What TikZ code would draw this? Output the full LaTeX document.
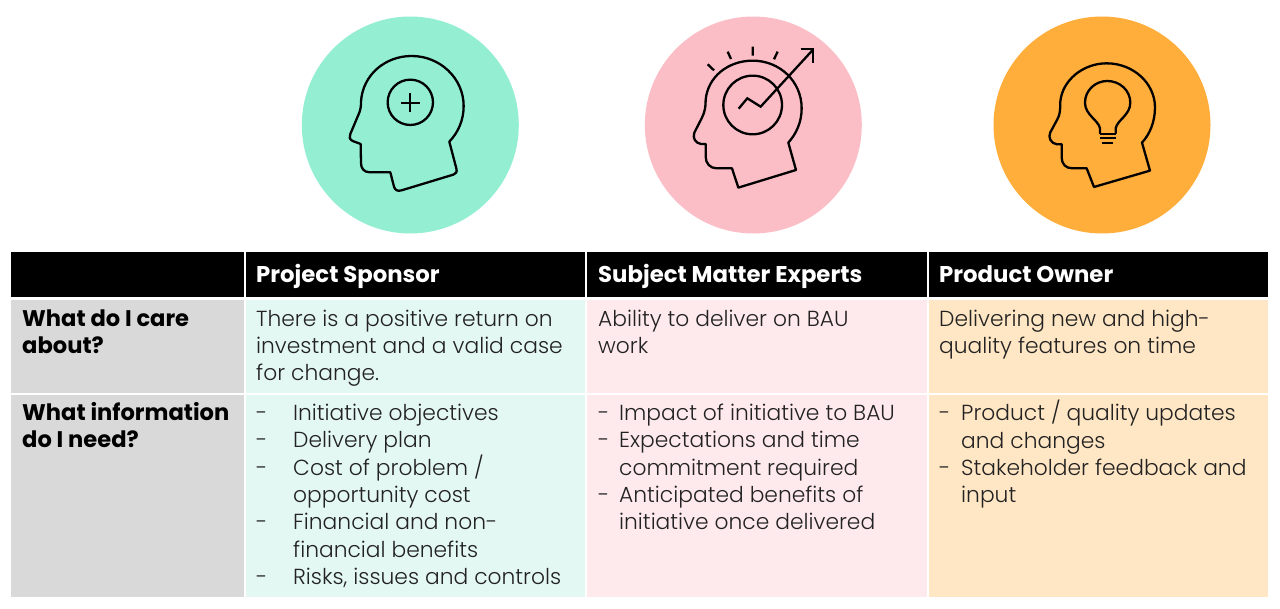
\documentclass[tikz,border=0pt]{standalone}
\usepackage{fontspec}
\setmainfont{Poppins}[UprightFont=* Light,BoldFont=* Bold]
\definecolor{mintD}{HTML}{94EFD2}
\definecolor{pinkD}{HTML}{FBBEC6}
\definecolor{orangeD}{HTML}{FFAD3B}
\definecolor{mintL}{HTML}{E4F8F3}
\definecolor{pinkL}{HTML}{FEE9EC}
\definecolor{orangeL}{HTML}{FFE6C4}
\definecolor{greyL}{HTML}{D9D9D9}
\definecolor{ink}{HTML}{222222}
\newcommand{\fl}{\rule{0pt}{20pt}}
\tikzset{
  badge/.style={circle,inner sep=0pt,minimum size=217pt},
  icon/.style={line width=2.3pt,line join=round,line cap=round,draw=black},
  txt/.style={anchor=north west,inner sep=0pt,align=left,font=\fontsize{21.8}{27.4}\selectfont,text=ink},
  hd/.style={anchor=north west,inner sep=0pt,align=left,font=\fontsize{22.8}{27.4}\selectfont\bfseries,text=white},
  rowhd/.style={anchor=north west,inner sep=0pt,align=left,font=\fontsize{22.6}{27.4}\selectfont\bfseries,text=black},
}
\begin{document}
\begin{tikzpicture}[x=1pt,y=-1pt]
\useasboundingbox (0,0) rectangle (1280,609);
% badges
\node[badge,fill=mintD] (b1) at (410.3,125) {};
\node[badge,fill=pinkD] (b2) at (753.3,125) {};
\node[badge,fill=orangeD] (b3) at (1102,125) {};
% head 1
\begin{scope}[shift={(290pt,0pt)},x=0.3333pt,y=-0.3333pt]
\draw[icon] (478,425) -- (499,505) .. controls (502,517) and (498,521) .. (490,524) -- (335,571)
 .. controls (322,575) and (315,570) .. (312,560) -- (301,517) -- (240,517)
 .. controls (222,517) and (213,505) .. (213,490) -- (212,432) -- (188,423)
 .. controls (178,418) and (177,410) .. (181,402) -- (205,345)
 .. controls (212,330) and (213,320) .. (213,305)
 .. controls (218,225) and (285,168) .. (365,168)
 .. controls (450,168) and (521,235) .. (521,318)
 .. controls (521,360) and (505,397) .. (478,425) -- cycle;
\draw[icon] (361,307) circle[radius=68];
\draw[icon,line cap=butt] (333,309) -- (389,309) (361,279) -- (361,336);
\end{scope}
% head 2
\begin{scope}[shift={(635pt,0pt)},x=0.3333pt,y=-0.3333pt]
\draw[icon] (460,428) -- (483,510) -- (310,563) -- (291,505) -- (245,505)
 .. controls (225,505) and (212,490) .. (212,470) -- (212,432) -- (198,432)
 .. controls (182,430) and (172,415) .. (178,398) -- (200,355)
 .. controls (210,335) and (212,320) .. (212,300)
 .. controls (218,230) and (280,182) .. (353,182)
 .. controls (435,182) and (500,245) .. (500,325)
 .. controls (500,365) and (485,400) .. (460,428) -- cycle;
\draw[icon] (353,315) circle[radius=88];
\draw[icon,line cap=butt] (218,193) -- (237,211) (278,155) -- (288,177) (353,140) -- (353,167) (428,155) -- (417,178);
\draw[icon,line join=miter,line cap=butt] (311,326) -- (337,295) -- (377,320) -- (535,148);
\draw[icon,line join=miter,line cap=butt] (497,148) -- (535,148) -- (535,190);
\end{scope}
% head 3
\begin{scope}[shift={(985pt,0pt)},x=0.3333pt,y=-0.3333pt]
\draw[icon] (471,428) -- (495,512) -- (327,561) -- (305,505) -- (262,505)
 .. controls (242,505) and (230,492) .. (230,472) -- (230,433) -- (216,433)
 .. controls (198,431) and (188,412) .. (196,397) -- (216,360)
 .. controls (225,345) and (226,330) .. (226,305)
 .. controls (232,240) and (295,190) .. (365,190)
 .. controls (445,190) and (510,250) .. (510,322)
 .. controls (510,365) and (495,402) .. (471,428) -- cycle;
\draw[icon] (345,400) -- (345,385) .. controls (340,360) and (300,345) .. (300,308)
 .. controls (300,272) and (330,243) .. (367,243)
 .. controls (405,243) and (436,272) .. (436,308)
 .. controls (436,345) and (397,360) .. (392,385) -- (392,400);
\draw[icon,line cap=butt] (345,402) -- (392,402) (345,415) -- (392,415) (352,430) -- (384,430);
\end{scope}
% table background
\fill[black] (11,252) rectangle (1268,297);
\draw[white,line width=2pt] (244.5,252) -- (244.5,297) (586,252) -- (586,297) (927.5,252) -- (927.5,297);
\fill[greyL] (11,300) rectangle (243.5,393);
\fill[greyL] (11,395) rectangle (243.5,597);
\fill[mintL] (245.5,300) rectangle (585,393);
\fill[mintL] (245.5,395) rectangle (585,597);
\fill[pinkL] (587,300) rectangle (926.5,393);
\fill[pinkL] (587,395) rectangle (926.5,597);
\fill[orangeL] (928.5,300) rectangle (1268,393);
\fill[orangeL] (928.5,395) rectangle (1268,597);
% header
\node[hd] (h1) at (256,262.5) {\fl Project Sponsor};
\node[hd] (h2) at (598,262.5) {\fl Subject Matter Experts};
\node[hd] (h3) at (939,262.5) {\fl Product Owner};
% row heads
\node[rowhd] (r1) at (22,306) {\fl What do I care\\about?};
\node[rowhd] (r2) at (22,400) {\fl What information\\do I need?};
% row 1
\node[txt] (c11) at (256,306) {\fl There is a positive return on\\investment and a valid case\\for change.};
\node[txt] (c12) at (598,306) {\fl Ability to deliver on BAU\\work};
\node[txt] (c13) at (939,306) {\fl Delivering new and high-\\quality features on time};
% row 2
\node[txt] (c21) at (256,400) {\fl\makebox[37pt][l]{-}Initiative objectives\\
\makebox[37pt][l]{-}Delivery plan\\
\makebox[37pt][l]{-}Cost of problem /\\
\hspace*{37pt}opportunity cost\\
\makebox[37pt][l]{-}Financial and non-\\
\hspace*{37pt}financial benefits\\
\makebox[37pt][l]{-}Risks, issues and controls};
\node[txt] (c22) at (598,400) {\fl\makebox[21pt][l]{-}Impact of initiative to BAU\\
\makebox[21pt][l]{-}Expectations and time\\
\hspace*{21pt}commitment required\\
\makebox[21pt][l]{-}Anticipated benefits of\\
\hspace*{21pt}initiative once delivered};
\node[txt] (c23) at (939,400) {\fl\makebox[22pt][l]{-}Product / quality updates\\
\hspace*{22pt}and changes\\
\makebox[22pt][l]{-}Stakeholder feedback and\\
\hspace*{22pt}input};
\end{tikzpicture}
\end{document}
